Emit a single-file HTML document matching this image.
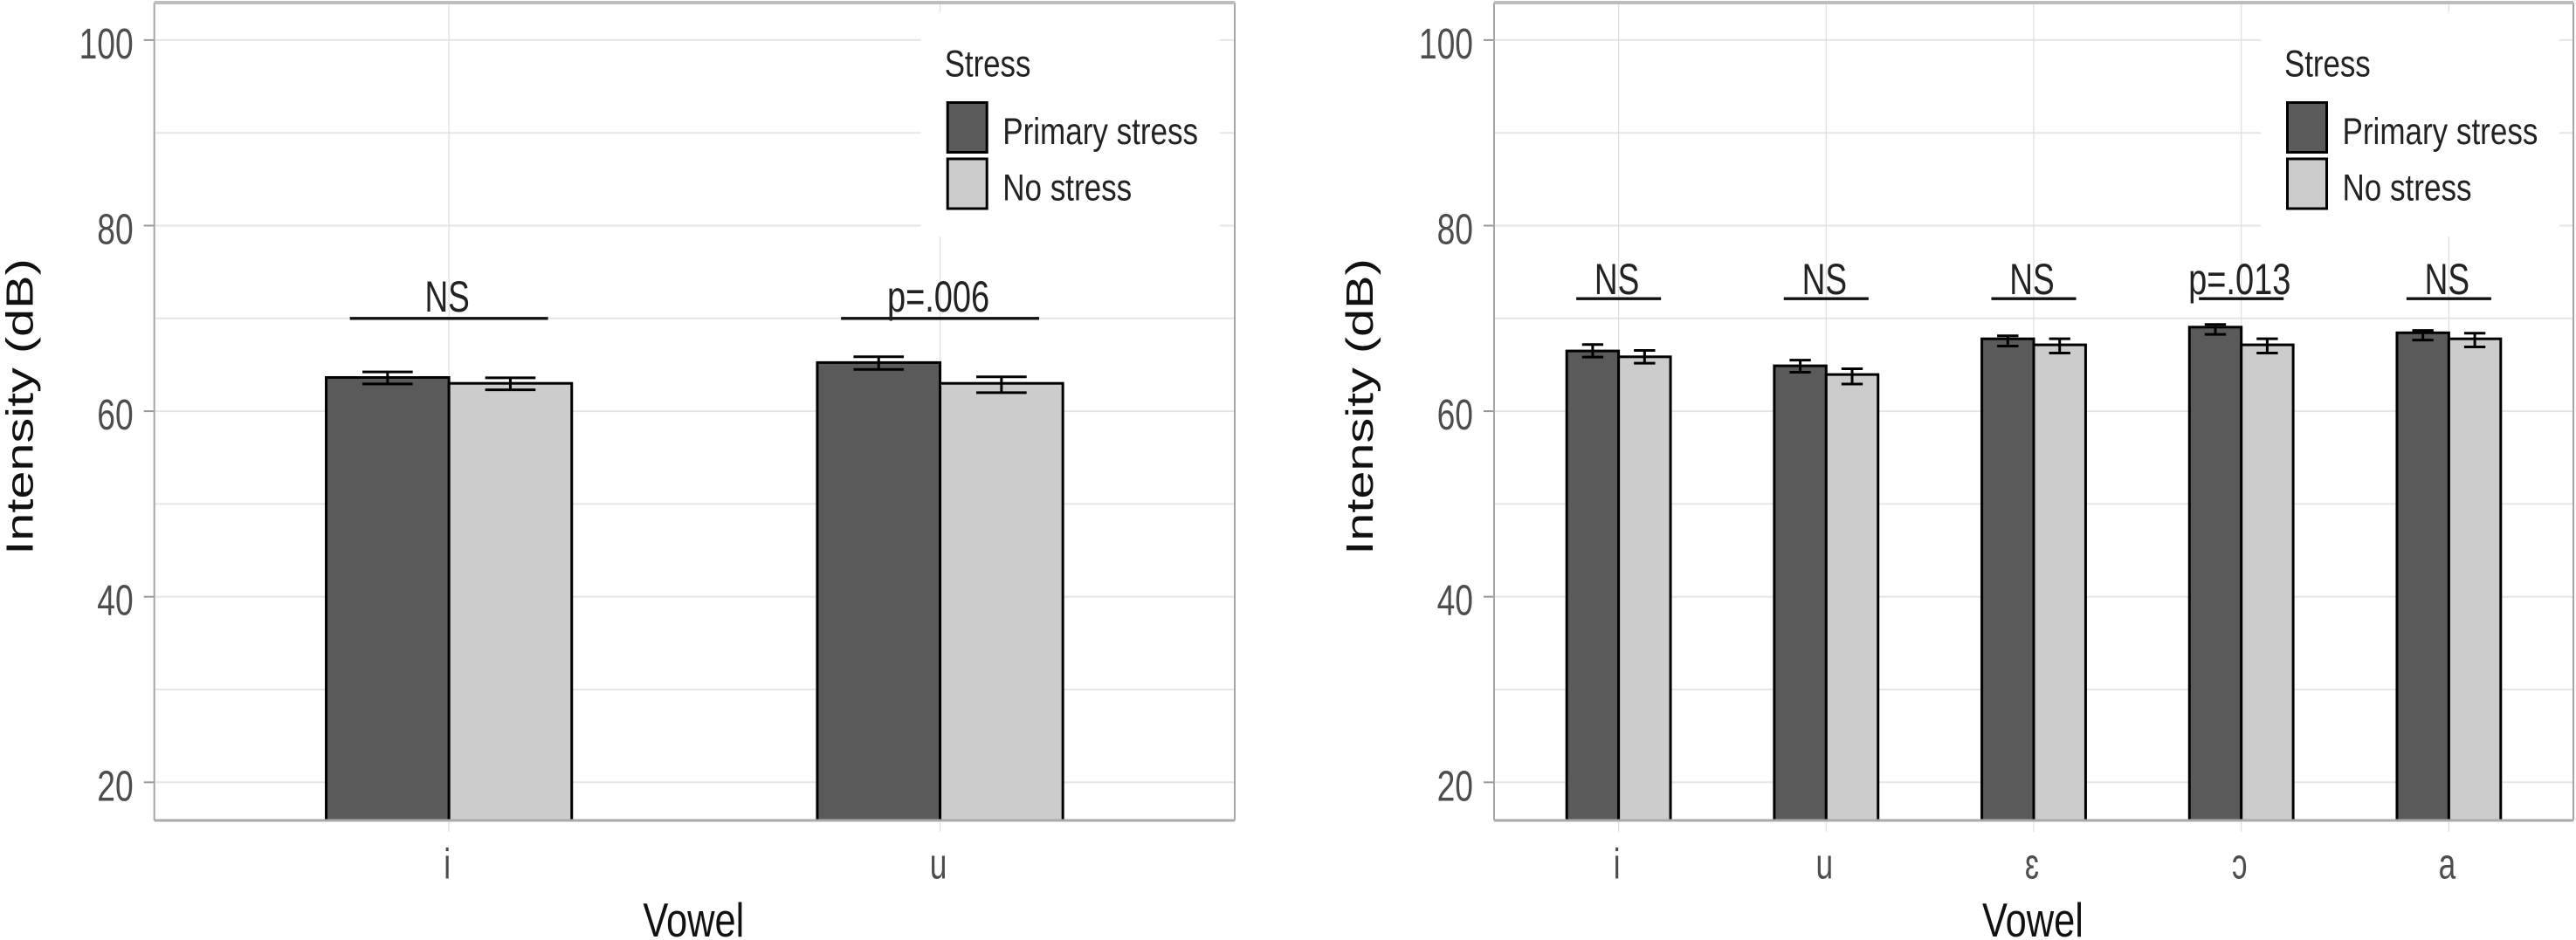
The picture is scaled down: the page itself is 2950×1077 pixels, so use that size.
<!DOCTYPE html>
<html lang="en">
<head>
<meta charset="utf-8">
<title>Intensity by vowel and stress</title>
<style>
  html, body { margin: 0; padding: 0; background: #fff; }
  svg { display: block; }
  text { font-family: "Liberation Sans", "DejaVu Sans", sans-serif; }
</style>
</head>
<body>
<svg id="chart" xmlns="http://www.w3.org/2000/svg" width="2950" height="1077" viewBox="0 0 2950 1077"></svg>
<script>
// ---- Chart data ----
const yTickLabels = [20, 40, 60, 80, 100];
const yMinorTicks = [30, 50, 70, 90];
const seriesNames = ['Primary stress', 'No stress'];

const leftCategories = ['i', 'u'];
const leftPrimaryMean = [63.63, 65.24];
const leftPrimaryHigh = [64.23, 65.86];
const leftPrimaryLow = [62.94, 64.5];
const leftNoStressMean = [63.0, 63.0];
const leftNoStressHigh = [63.6, 63.7];
const leftNoStressLow = [62.3, 62.0];
const leftSignificance = ['NS', 'p=.006'];
const leftSignificanceLevel = 70;

const rightCategories = ['i', 'u', 'ɛ', 'ɔ', 'a'];
const rightPrimaryMean = [66.49, 64.89, 67.8, 69.06, 68.45];
const rightPrimaryHigh = [67.18, 65.5, 68.12, 69.35, 68.7];
const rightPrimaryLow = [65.83, 64.2, 67.02, 68.28, 67.67];
const rightNoStressMean = [65.86, 63.95, 67.15, 67.15, 67.8];
const rightNoStressHigh = [66.55, 64.57, 67.8, 67.8, 68.41];
const rightNoStressLow = [65.17, 62.92, 66.27, 66.27, 66.92];
const rightSignificance = ['NS', 'NS', 'NS', 'p=.013', 'NS'];
const rightSignificanceLevel = 72.13;

// ---- Drawing ----
const SVG_NS = 'http://www.w3.org/2000/svg';
const root = document.getElementById('chart');
const DARK = '#5a5a5a';
const LIGHT = '#cccccc';
const PANEL_TOP = 3;
const PANEL_BOTTOM = 940;

function yScale(v) { return 896.3 - (v - 20) * 10.63; }

function make(parent, tag, attrs, text) {
  const el = document.createElementNS(SVG_NS, tag);
  for (const k in attrs) el.setAttribute(k, attrs[k]);
  if (text !== undefined) el.textContent = text;
  parent.appendChild(el);
  return el;
}

function scaledText(parent, str, x, y, size, sx, anchor, fill) {
  return make(parent, 'text', {
    transform: 'translate(' + x + ' ' + y + ') scale(' + sx + ' 1)',
    'font-size': size, 'text-anchor': anchor, fill: fill
  }, str);
}

function drawPanel(prefix, left, right, categories, series, significance, sigLevel, sigGap) {
  const panel = make(root, 'g', {});
  
  

  const n = categories.length;
  const step = (right - left) / (n - 1 + 1.2);
  const xScale = function (i) { return left + (0.6 + i) * step; };
  const barW = step * 0.25;
  const capW = barW * 0.41;

  // gridlines
  yMinorTicks.concat(yTickLabels).forEach(function (v) {
    const g = make(panel, 'line', { x1: left, x2: right, y1: yScale(v), y2: yScale(v), stroke: '#e6e6e6', 'stroke-width': 2 });
    
    
  });
  categories.forEach(function (c, i) {
    const g = make(panel, 'line', { x1: xScale(i), x2: xScale(i), y1: PANEL_TOP, y2: 953, stroke: '#dedede', 'stroke-width': 1.2 });
    
    
  });

  // y ticks and labels
  yTickLabels.forEach(function (v) {
    const t = make(panel, 'line', { x1: left - 12, x2: left, y1: yScale(v), y2: yScale(v), stroke: '#999', 'stroke-width': 2 });
    
    
    const l = scaledText(panel, String(v), left - 24, yScale(v) + 21, 49, 0.76, 'end', '#4d4d4d');
    
    
  });

  // bars
  categories.forEach(function (c, i) {
    const cx = xScale(i);
    series.forEach(function (s, j) {
      const x = j === 0 ? cx - barW : cx;
      const top = yScale(s.mean[i]);
      const bar = make(panel, 'rect', {
        x: x, y: top, width: barW, height: PANEL_BOTTOM - top,
        fill: s.fill, stroke: '#000', 'stroke-width': 3
      });
      
      
    });
    series.forEach(function (s, j) {
      const mid = j === 0 ? cx - barW / 2 : cx + barW / 2;
      const hi = yScale(s.high[i]);
      const lo = yScale(s.low[i]);
      const eb = make(panel, 'path', {
        d: 'M' + (mid - capW / 2) + ' ' + hi + 'H' + (mid + capW / 2) +
           'M' + mid + ' ' + hi + 'V' + lo +
           'M' + (mid - capW / 2) + ' ' + lo + 'H' + (mid + capW / 2),
        fill: 'none', stroke: '#000', 'stroke-width': 3
      });
      
      
    });

    // significance annotation
    const sy = yScale(sigLevel);
    const hw = step * 0.2 + 1;
    const sl = make(panel, 'line', { x1: cx - hw, x2: cx + hw, y1: sy, y2: sy, stroke: '#111', 'stroke-width': 3.4 });
    
    
    const isP = significance[i] !== 'NS';
    const st = scaledText(panel, significance[i], cx - 2, sy - sigGap, 50, isP ? 0.76 : 0.74, 'middle', '#222');
    
    

    // x tick label
    const xl = scaledText(panel, c, cx - 2, 1006.5, 49, 0.72, 'middle', '#4d4d4d');
    
    
  });

  // panel border
  const bl = make(panel, 'line', { x1: left, x2: left, y1: PANEL_TOP, y2: PANEL_BOTTOM, stroke: '#a6a6a6', 'stroke-width': 2 });
  
  
  const br = make(panel, 'line', { x1: right, x2: right, y1: PANEL_TOP, y2: PANEL_BOTTOM, stroke: '#a6a6a6', 'stroke-width': 2 });
  
  
  const bt = make(panel, 'line', { x1: left, x2: right, y1: PANEL_TOP, y2: PANEL_TOP, stroke: '#bdbdbd', 'stroke-width': 4 });
  
  
  const bb = make(panel, 'line', { x1: left, x2: right, y1: PANEL_BOTTOM, y2: PANEL_BOTTOM, stroke: '#aaaaaa', 'stroke-width': 3 });
  
  

  // legend
  const legend = make(panel, 'g', {});
  
  
  const lx = left;
  make(legend, 'rect', { x: lx + 878, y: 14, width: 342, height: 257, fill: '#fff' });
  const lt = scaledText(legend, 'Stress', lx + 905, 87.5, 43, 0.81, 'start', '#222');
  
  
  const rows = [{ y: 117.5, base: 165 }, { y: 182, base: 229.3 }];
  seriesNames.forEach(function (name, j) {
    const key = make(legend, 'rect', { x: lx + 908.5, y: rows[j].y, width: 45, height: 57, fill: j === 0 ? DARK : LIGHT, stroke: '#000', 'stroke-width': 3 });
    
    
    const lab = scaledText(legend, name, lx + 971.5, rows[j].base, 43, 0.815, 'start', '#222');
    
    
  });

  // axis titles
  const yTitle = make(panel, 'text', {
    transform: 'translate(' + (left - 139) + ' 466) rotate(-90) scale(1.31 1)',
    'font-size': 44, 'text-anchor': 'middle', fill: '#111'
  }, 'Intensity (dB)');
  
  

  const xTitle = scaledText(panel, 'Vowel', (left + right) / 2 - 1, 1073, 55, 0.79, 'middle', '#111');
  
  
}

drawPanel('left', 176.7, 1414, leftCategories, [
  { fill: DARK, mean: leftPrimaryMean, high: leftPrimaryHigh, low: leftPrimaryLow },
  { fill: LIGHT, mean: leftNoStressMean, high: leftNoStressHigh, low: leftNoStressLow }
], leftSignificance, leftSignificanceLevel, 8);

drawPanel('right', 1711, 2947, rightCategories, [
  { fill: DARK, mean: rightPrimaryMean, high: rightPrimaryHigh, low: rightPrimaryLow },
  { fill: LIGHT, mean: rightNoStressMean, high: rightNoStressHigh, low: rightNoStressLow }
], rightSignificance, rightSignificanceLevel, 5);
</script>
</body>
</html>
